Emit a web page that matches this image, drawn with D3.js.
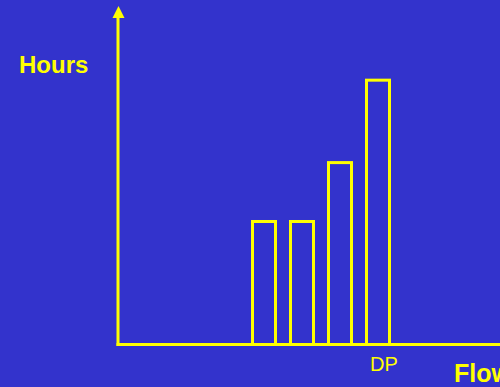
<!DOCTYPE html>
<html>
<head>
<meta charset="utf-8">
<script src="https://cdn.jsdelivr.net/npm/d3@7"></script>
<style>
  html, body { margin: 0; padding: 0; background: #3333cc; }
  svg { display: block; }
</style>
</head>
<body>
<script>
// Flow steps along the horizontal axis and hours spent in each
const categories = ["A", "B", "C", "DP"];
const hours = [37, 37, 54.5, 79];
const tickLabels = ["", "", "", "DP"];

const W = 500, H = 387;
const bg = "#3333cc", fg = "#ffff00";

const svg = d3.select("body").append("svg")
  .attr("width", W).attr("height", H);

svg.append("rect").attr("width", W).attr("height", H).attr("fill", bg);

const originX = 118, originY = 344.5;

const x = d3.scaleBand()
  .domain(categories)
  .range([251, 391])
  .paddingInner(0.316)
  .paddingOuter(0);

const y = d3.scaleLinear().domain([0, 100]).range([originY, 8]);

const sw = 3;

// bars drawn as outlined rectangles
svg.append("g").selectAll("rect")
  .data(categories.map((c, i) => ({ c, v: hours[i] })))
  .join("rect")
  .attr("x", d => x(d.c) + sw / 2)
  .attr("y", d => y(d.v) + sw / 2)
  .attr("width", x.bandwidth() - sw)
  .attr("height", d => originY - y(d.v) - sw / 2)
  .attr("fill", "none")
  .attr("stroke", fg)
  .attr("stroke-width", sw);

// axes
svg.append("line")
  .attr("x1", originX).attr("x2", originX)
  .attr("y1", originY + 1.5).attr("y2", 16)
  .attr("stroke", fg).attr("stroke-width", sw);

svg.append("path")
  .attr("d", `M${originX - 5.5},18 L${originX + 0.5},6 L${originX + 6.5},18 Z`)
  .attr("fill", fg);

svg.append("line")
  .attr("x1", originX - 1.5).attr("x2", W)
  .attr("y1", originY).attr("y2", originY)
  .attr("stroke", fg).attr("stroke-width", sw);

// category label under the last bar
svg.append("g").selectAll("text")
  .data(categories.map((c, i) => ({ c, t: tickLabels[i] })).filter(d => d.t))
  .join("text")
  .attr("x", d => x(d.c) + x.bandwidth() / 2 + 6)
  .attr("y", 371)
  .attr("text-anchor", "middle")
  .attr("font-family", "Liberation Sans, Arial, sans-serif")
  .attr("font-size", 20)
  .attr("fill", fg)
  .text(d => d.t);

// axis titles
svg.append("text")
  .attr("x", 19).attr("y", 73)
  .attr("font-family", "Liberation Sans, Arial, sans-serif")
  .attr("font-size", 24).attr("font-weight", "bold")
  .attr("fill", fg)
  .text("Hours");

svg.append("text")
  .attr("x", 454).attr("y", 382)
  .attr("font-family", "Liberation Sans, Arial, sans-serif")
  .attr("font-size", 25).attr("font-weight", "bold")
  .attr("fill", fg)
  .text("Flow");
</script>
</body>
</html>
